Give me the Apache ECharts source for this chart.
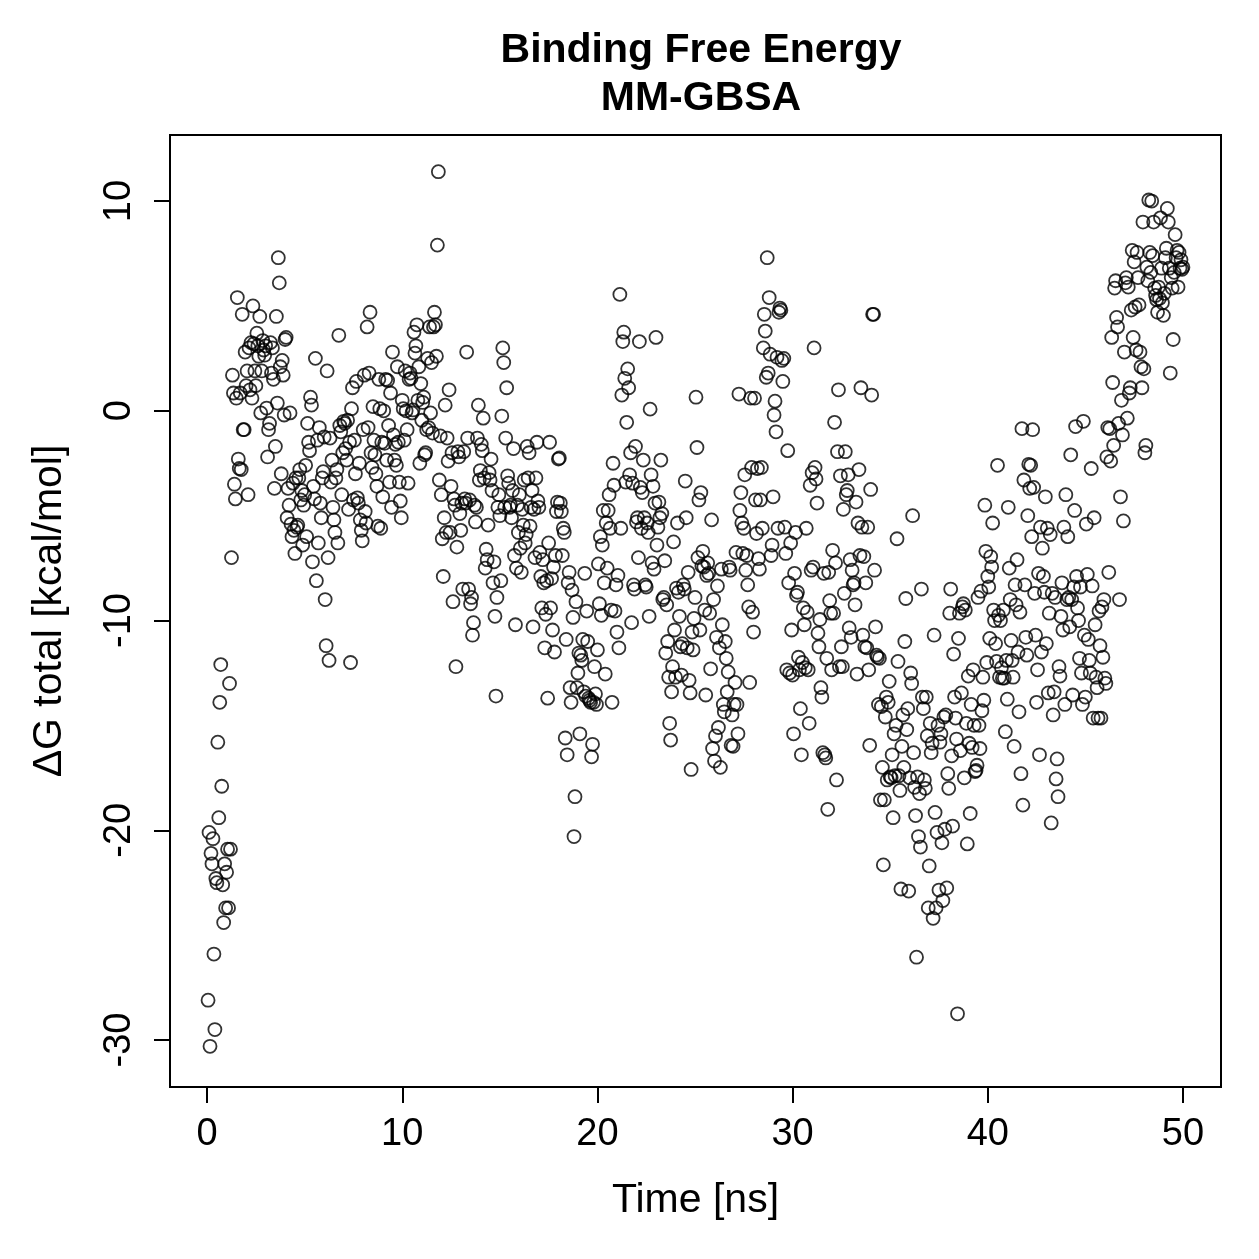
<!DOCTYPE html>
<html>
<head>
<meta charset="utf-8">
<script src="https://cdn.jsdelivr.net/npm/echarts@6/dist/echarts.min.js"></script>
<style>html,body{margin:0;padding:0;background:#fff}#c{width:1259px;height:1259px}</style>
</head>
<body>
<div id="c"></div>
<script>
// ΔG total [kcal/mol], one value every 0.05 ns, grouped by 10 ns blocks (20 values per ns line)
const dG_0_10 = [
-28.1,-20.1,-30.3,-21.1,-21.6,-20.4,-25.9,-29.5,-22.3,-22.5,-15.8,-19.4,-13.9,-12.1,-17.9,-22.6,-24.4,-21.6,-23.7,-22.0,
-20.9,-23.7,-13.0,-20.9,-7.0,1.7,0.85,-3.5,-4.2,0.6,5.4,-2.3,-2.75,0.85,-2.8,4.6,-0.9,-0.9,2.8,1.2,
1.9,-4.0,3.0,1.0,3.25,0.6,5.0,3.2,1.9,1.2,3.7,3.1,2.6,4.5,-0.1,1.9,3.35,2.9,2.65,3.1,
0.13,-2.2,-0.9,-0.6,3.25,1.8,3.0,1.5,-3.7,-1.7,4.5,0.37,7.3,6.1,2.1,-3.0,2.4,1.7,-0.2,3.4,
3.5,-5.1,-3.7,-4.5,-0.1,-5.4,-6.0,-3.45,-5.7,-6.8,-3.2,-5.55,-5.45,-3.2,-2.8,-4.25,-3.8,-6.4,-4.5,-4.0,
-2.6,-6.0,-0.6,-1.5,-1.9,0.65,0.27,-7.2,-3.6,-4.2,2.5,-8.1,-1.4,-6.3,-0.8,-4.4,-5.1,-3.2,-2.9,-1.25,
-9.0,-11.2,1.9,-7.0,-11.9,-1.3,-3.4,-2.35,-4.6,-5.2,-5.8,-3.2,-2.8,-6.3,3.6,-0.7,-1.0,-4.0,-2.0,-0.5,
-0.6,-1.8,-2.35,-0.45,-4.7,-1.5,-12.0,0.1,1.1,-4.25,-1.4,-3.0,1.4,-4.15,-4.4,-2.5,-5.2,-5.7,-6.2,-0.9,
1.7,-4.8,-5.35,4.0,-0.8,1.8,4.7,-2.0,-2.7,0.2,-1.4,-2.1,-3.0,-3.6,-5.5,1.5,0.1,-5.6,-1.5,-4.1,
0.0,-1.55,1.5,-2.35,1.45,-0.7,-3.4,0.85,-4.6,2.8,-1.15,-2.35,-1.6,-2.6,2.1,-1.5,-3.4,-4.3,-5.1,0.5
];
const dG_10_20 = [
0.1,-1.4,1.9,0.0,-0.9,-3.45,1.5,1.8,1.55,-0.1,0.04,3.75,2.75,3.1,4.1,0.5,2.1,-2.5,1.3,-0.45,
0.4,0.65,-2.1,-2.0,-0.9,2.5,-0.8,4.0,-0.1,2.3,-1.06,4.0,4.7,4.1,2.6,7.9,11.4,-3.3,-1.2,-4.0,
-6.1,-7.9,-5.1,0.27,-5.8,-1.3,-2.4,1.0,-5.8,-3.6,-2.0,-9.1,-4.2,-4.5,-12.2,-6.5,-1.95,-2.2,-4.9,-5.7,
-4.4,-8.5,-1.95,-4.2,-4.4,2.8,-1.3,-8.5,-4.25,-9.2,-8.9,-10.7,-10.1,-4.5,-5.3,-4.6,-1.3,0.27,-3.3,-2.85,
-1.6,-1.9,-0.35,-3.2,-7.5,-6.6,-7.1,-5.45,-2.95,-3.3,-2.3,-3.8,-8.2,-7.2,-9.8,-13.6,-8.9,-4.6,-4.0,-5.0,
-8.1,-0.25,3.0,2.3,-4.6,-1.3,1.1,-3.1,-3.45,-4.6,-4.5,-5.1,-3.8,-1.8,-6.9,-10.2,-7.5,-4.5,-5.8,-4.0,
-6.55,-7.7,-4.7,-5.45,-3.3,-6.3,-5.9,-1.7,-3.2,-2.0,-5.5,-4.6,-3.8,-10.3,-4.7,-7.0,-3.2,-1.5,-4.3,-4.6,
-6.75,-7.9,-9.4,-7.1,-8.2,-11.3,-9.7,-8.1,-13.7,-6.3,-1.5,-9.4,-8.0,-10.45,-7.45,-11.5,-6.9,-4.8,-4.35,-2.3,
-2.25,-4.4,-4.8,-6.9,-5.6,-5.8,-15.6,-10.9,-16.4,-8.2,-7.7,-13.2,-13.9,-8.55,-9.85,-20.3,-18.4,-9.1,-13.2,-12.5,
-11.55,-15.4,-11.65,-11.9,-10.9,-13.4,-7.75,-13.6,-9.55,-11.0,-13.7,-13.8,-13.9,-16.5,-15.9,-13.9,-12.2,-13.5,-14.0,-11.4
];
const dG_20_30 = [
-7.3,-9.2,-6.0,-9.75,-6.4,-4.75,-8.2,-12.55,-5.35,-7.5,-4.75,-4.0,-5.6,-9.5,-13.9,-2.5,-3.55,-9.55,-8.3,-10.55,
-7.85,-11.3,5.55,-5.6,0.75,3.3,3.75,1.55,-3.4,-0.55,2.0,1.1,-3.05,-2.0,-10.1,-3.45,-8.3,-8.5,-1.7,-5.3,
-5.1,-7.0,3.3,-3.65,-5.6,-3.9,-2.35,-5.1,-8.3,-8.4,-5.35,-5.8,-9.8,0.08,-3.05,-7.25,-3.6,-7.55,-4.4,3.5,
-6.4,-5.55,-4.35,-5.1,-2.35,-4.9,-9.0,-8.9,-7.15,-11.55,-9.25,-11.0,-12.7,-14.9,-15.7,-13.4,-12.2,-6.25,-10.45,-12.7,
-8.45,-5.35,-8.65,-9.8,-11.25,-12.6,-11.1,-8.3,-8.5,-3.35,-5.1,-11.3,-7.7,-12.85,-13.45,-17.1,-10.55,-11.4,-9.9,-8.9,
0.65,-1.75,-7.0,-4.25,-10.45,-3.9,-7.4,-6.7,-7.45,-9.5,-13.55,-7.85,-7.25,-7.75,-9.65,-12.3,-5.2,-16.1,-9.0,-16.7,
-15.5,-10.8,-8.35,-15.1,-11.3,-17.0,-7.55,-10.2,-14.0,-14.35,-11.0,-11.8,-13.4,-12.45,-7.45,-7.6,-15.95,-14.5,-16.0,-14.0,
-12.95,-6.75,-14.0,-15.4,0.8,-4.75,-3.9,-5.35,-6.8,-5.6,-3.05,-7.6,-6.9,-8.3,-9.35,-12.95,0.6,-2.7,-9.6,-10.55,
0.6,-4.25,-5.85,-2.75,-7.05,-7.55,-4.25,-2.7,-5.6,3.0,4.6,3.8,1.6,7.3,1.8,5.4,2.7,-6.9,-6.4,-4.1,
-0.2,0.46,-1.0,2.55,-5.6,4.7,4.9,4.8,2.4,1.4,2.5,-5.55,-6.8,-12.35,-1.9,-8.2,-12.5,-6.3,-10.45,-12.6
];
const dG_30_40 = [
-15.4,-7.75,-5.8,-8.8,-8.65,-11.75,-12.35,-14.2,-16.4,-12.0,-9.4,-10.2,-12.25,-5.6,-9.6,-12.35,-14.9,-3.55,-7.6,-2.95,
-7.45,3.0,-2.7,-3.25,-4.4,-10.6,-11.25,-9.95,-13.2,-13.65,-16.3,-7.75,-16.4,-16.55,-11.8,-19.0,-7.7,-9.05,-9.65,-12.35,
-6.65,-9.65,-0.55,-7.25,-17.6,-1.95,1.0,-12.2,-3.1,-11.25,-12.2,-4.7,-8.7,-1.95,-4.0,-3.8,-3.05,-10.35,-7.1,-10.8,
-7.6,-8.3,-8.2,-9.25,-4.35,-12.55,-5.35,-2.8,-6.9,1.1,-5.55,-10.7,-6.95,-11.25,-8.2,-11.3,-5.55,-12.35,-15.95,-3.75,
0.75,4.6,4.6,-7.6,-10.3,-11.65,-11.75,-14.0,-11.8,-18.55,-14.1,-17.0,-21.65,-18.55,-14.6,-13.65,-17.6,-13.9,-12.9,-17.45,
-17.5,-16.4,-19.4,-15.4,-17.4,-15.0,-6.1,-11.95,-17.4,-18.1,-22.8,-16.0,-14.5,-17.0,-11.0,-8.95,-15.2,-14.2,-22.9,-17.5,
-12.5,-13.0,-5.0,-16.3,-17.95,-19.3,-26.05,-17.45,-20.3,-18.25,-20.8,-8.5,-13.65,-14.2,-17.6,-18.0,-13.65,-15.5,-23.7,-21.7,
-14.9,-16.3,-15.85,-24.2,-10.7,-19.15,-23.7,-20.1,-15.0,-22.85,-15.8,-15.4,-20.6,-23.35,-14.6,-19.95,-14.5,-22.75,-17.3,-18.0,
-9.65,-8.5,-16.45,-19.8,-11.6,-13.65,-14.65,-15.65,-28.75,-10.85,-9.65,-16.2,-13.45,-9.35,-9.2,-17.5,-9.5,-14.9,-20.65,-12.65,
-15.85,-19.2,-14.0,-16.05,-12.35,-15.0,-17.2,-17.15,-16.9,-8.9,-15.0,-16.1,-8.6,-14.3,-12.7,-13.8,-4.5,-6.7,-12.0,-7.9
];
const dG_40_50 = [
-8.4,-10.85,-6.95,-7.45,-5.35,-9.5,-10.0,-11.1,-11.95,-2.6,-9.75,-12.7,-10.0,-12.25,-12.75,-9.5,-12.75,-15.3,-11.9,-13.75,
-4.6,-7.5,-9.0,-10.95,-11.9,-12.7,-16.0,-8.3,-9.25,-7.1,-11.5,-14.35,-9.6,-17.3,-0.85,-18.8,-3.3,-8.3,-10.8,-11.65,
-5.0,-2.55,-3.7,-2.6,-6.0,-0.9,-3.65,-8.7,-10.7,-13.9,-12.35,-7.75,-16.4,-5.55,-11.5,-6.55,-7.9,-8.65,-4.1,-11.1,
-5.6,-13.45,-9.65,-5.9,-19.65,-8.7,-14.5,-13.4,-8.9,-17.55,-16.6,-18.4,-12.2,-12.65,-9.8,-8.2,-10.45,-5.55,-14.0,-4.0,
-9.0,-6.0,-8.9,-10.3,-2.1,-9.0,-13.55,-8.4,-4.75,-0.75,-7.9,-9.4,-10.0,-11.8,-8.4,-12.5,-14.0,-0.5,-10.7,-13.65,
-5.4,-7.8,-10.9,-11.9,-12.5,-2.75,-8.35,-14.65,-5.1,-10.2,-12.7,-13.2,-14.65,-9.55,-11.2,-14.65,-9.35,-11.75,-9.0,-12.75,
-13.0,-2.2,-0.8,-7.7,-0.85,-2.4,3.5,1.35,-1.65,5.85,6.2,4.45,4.0,-0.6,-9.0,-4.1,0.5,-1.15,-5.25,2.8,
6.1,6.35,-0.35,5.9,0.85,1.1,4.8,7.65,3.5,7.1,4.95,2.9,7.55,6.35,5.05,2.8,2.1,1.1,9.0,2.0,
-2.0,-1.65,6.85,6.2,10.05,7.55,6.6,10.0,7.4,9.0,5.85,5.5,5.3,4.7,5.9,5.35,9.2,6.8,5.15,4.55,
5.6,7.3,7.75,9.65,9.0,6.8,1.8,6.35,5.85,3.4,6.6,8.4,7.3,7.65,5.9,7.55,6.8,7.2,6.75,6.85
];
const blockStarts = [0, 10, 20, 30, 40];   // ns
const timeStep = 0.05;                       // ns between frames
const xTicks = [0, 10, 20, 30, 40, 50];
const yTicks = [-30, -20, -10, 0, 10];

const blocks = [dG_0_10, dG_10_20, dG_20_30, dG_30_40, dG_40_50];
const points = [];
blocks.forEach((arr, b) => {
  arr.forEach((v, j) => points.push([blockStarts[b] + (j + 1) * timeStep, v]));
});

const FONT = 'Liberation Sans, Arial, Helvetica, sans-serif';
const chart = echarts.init(document.getElementById('c'), null, {renderer: 'canvas'});
chart.setOption({
  animation: false,
  backgroundColor: '#ffffff',
  title: {
    text: 'Binding Free Energy\nMM-GBSA',
    left: 696, top: 22, textAlign: 'center',
    textStyle: {fontFamily: FONT, fontWeight: 'bold', fontSize: 41, lineHeight: 48, color: '#000'}
  },
  grid: {
    left: 170, top: 135, width: 1051, height: 952,
    show: true, borderColor: '#000', borderWidth: 2, backgroundColor: 'transparent',
    containLabel: false, outerBoundsMode: 'none'
  },
  xAxis: {
    type: 'value', min: -1.9, max: 51.95,
    name: 'Time [ns]', nameLocation: 'middle', nameGap: 93,
    nameTextStyle: {fontFamily: FONT, fontSize: 41, color: '#000'},
    axisLine: {show: false, onZero: false},
    splitLine: {show: false},
    axisTick: {show: true, inside: false, length: 16, customValues: xTicks, lineStyle: {color: '#000', width: 2}},
    axisLabel: {show: true, margin: 29, customValues: xTicks, fontFamily: FONT, fontSize: 38, color: '#000'}
  },
  yAxis: {
    type: 'value', min: -32.24, max: 13.15,
    name: 'ΔG total [kcal/mol]', nameLocation: 'middle', nameGap: 100, nameRotate: 90,
    nameTextStyle: {fontFamily: FONT, fontSize: 41, color: '#000'},
    axisLine: {show: false, onZero: false},
    splitLine: {show: false},
    axisTick: {show: true, inside: false, length: 16, customValues: yTicks, lineStyle: {color: '#000', width: 2}},
    axisLabel: {show: true, rotate: 90, margin: 31, customValues: yTicks, fontFamily: FONT, fontSize: 38, color: '#000'}
  },
  series: [{
    type: 'scatter',
    data: points,
    symbol: 'circle',
    symbolSize: 13,
    itemStyle: {color: 'rgba(0,0,0,0)', borderColor: '#000', borderWidth: 1.8},
    emphasis: {disabled: true},
    silent: true
  }]
});
</script>
</body>
</html>
